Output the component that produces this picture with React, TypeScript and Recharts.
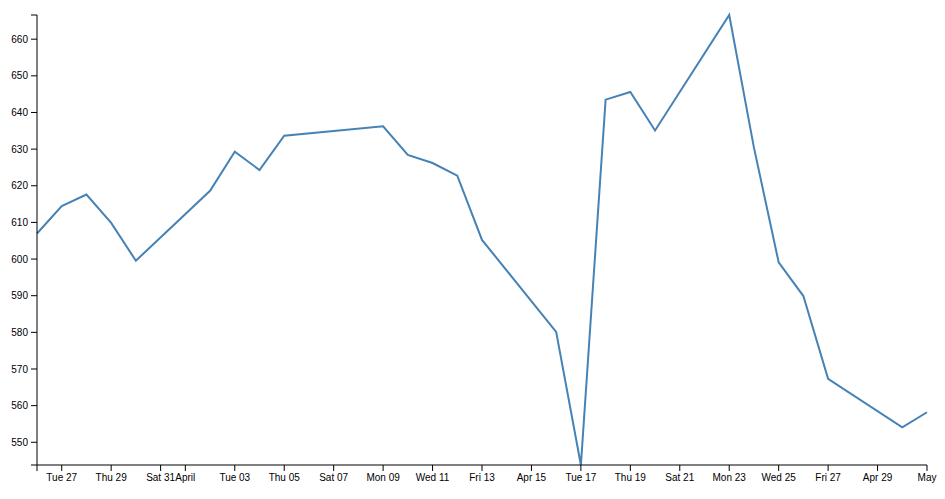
import * as React from "react";
import { Line, LineChart, XAxis, YAxis } from "recharts";

// closing prices, Mar 26 – May 1 2012
const dates = [
  "2012-03-26", "2012-03-27", "2012-03-28", "2012-03-29", "2012-03-30",
  "2012-04-02", "2012-04-03", "2012-04-04", "2012-04-05", "2012-04-09",
  "2012-04-10", "2012-04-11", "2012-04-12", "2012-04-13", "2012-04-16",
  "2012-04-17", "2012-04-18", "2012-04-19", "2012-04-20", "2012-04-23",
  "2012-04-24", "2012-04-25", "2012-04-26", "2012-04-27", "2012-04-30",
  "2012-05-01",
];

const closes = [
  606.98, 614.48, 617.62, 609.86, 599.55,
  618.63, 629.32, 624.31, 633.68, 636.23,
  628.44, 626.2, 622.77, 605.23, 580.13,
  543.8, 643.5, 645.6, 635.1, 666.6,
  630.4, 599.1, 589.9, 567.3, 554.1,
  558.2,
];

const tickDates = [
  "2012-03-26", "2012-03-27", "2012-03-29", "2012-03-31", "2012-04-01",
  "2012-04-03", "2012-04-05", "2012-04-07", "2012-04-09", "2012-04-11",
  "2012-04-13", "2012-04-15", "2012-04-17", "2012-04-19", "2012-04-21",
  "2012-04-23", "2012-04-25", "2012-04-27", "2012-04-29", "2012-05-01",
];

const tickLabels = [
  "", "Tue 27", "Thu 29", "Sat 31", "April",
  "Tue 03", "Thu 05", "Sat 07", "Mon 09", "Wed 11",
  "Fri 13", "Apr 15", "Tue 17", "Thu 19", "Sat 21",
  "Mon 23", "Wed 25", "Fri 27", "Apr 29", "May",
];

const yTicks = [543.8, 550, 560, 570, 580, 590, 600, 610, 620, 630, 640, 650, 660, 666.6];

const toTime = (s: string) => {
  const [y, m, d] = s.split("-").map(Number);
  return Date.UTC(y, m - 1, d);
};

const data = dates.map((d, i) => ({ t: toTime(d), close: closes[i] }));
const xTicks = tickDates.map(toTime);

const tickStyle = { fill: "#000", fontSize: 10, fontFamily: "Arial, 'Liberation Sans', sans-serif" };

export default function App() {
  return (
    <div style={{ position: "absolute", left: 0, top: 0 }}>
      <LineChart
        width={945}
        height={499}
        data={data}
        margin={{ top: 15, right: 18, bottom: 4, left: 0 }}
      >
        <XAxis
          dataKey="t"
          type="number"
          domain={["dataMin", "dataMax"]}
          ticks={xTicks}
          tickFormatter={(v: number) => tickLabels[xTicks.indexOf(v)] ?? ""}
          tick={tickStyle}
          tickSize={6}
          tickMargin={3}
          height={30}
          stroke="#000"
          interval={0}
        />
        <YAxis
          type="number"
          domain={["dataMin", "dataMax"]}
          ticks={yTicks}
          tickFormatter={(v: number) => (v % 10 === 0 ? String(v) : "")}
          tick={tickStyle}
          tickSize={6}
          tickMargin={3}
          width={37}
          stroke="#000"
          interval={0}
        />
        <Line
          type="linear"
          dataKey="close"
          stroke="steelblue"
          strokeWidth={2}
          dot={false}
          isAnimationActive={false}
        />
      </LineChart>
    </div>
  );
}
